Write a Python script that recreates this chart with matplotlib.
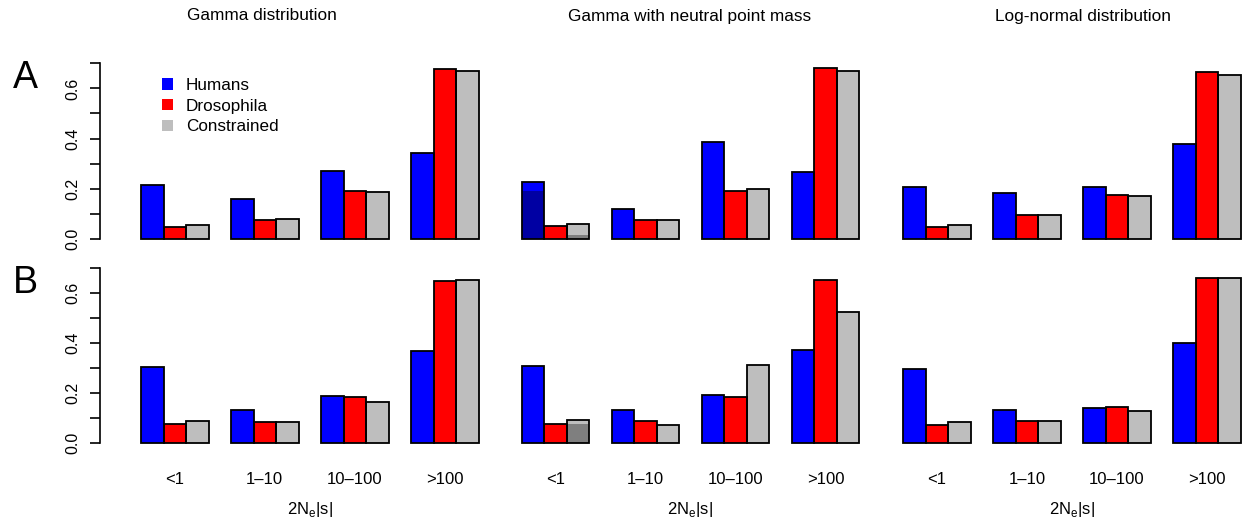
import matplotlib
matplotlib.use("Agg")
import matplotlib.pyplot as plt
from matplotlib.patches import Patch

plt.rcParams['font.family'] = ['Liberation Sans', 'DejaVu Sans']

categories = ["<1", "1\u201310", "10\u2013100", ">100"]
series = ["Humans", "Drosophila", "Constrained"]
colors = ["#0000FF", "#FF0000", "#BEBEBE"]
dark_colors = ["#0000A3", "#A00000", "#7F7F7F"]
panel_titles = ["Gamma distribution", "Gamma with neutral point mass", "Log-normal distribution"]
row_labels = ["A", "B"]

# Row A
A_gamma_humans = [0.215, 0.161, 0.270, 0.344]
A_gamma_dros = [0.048, 0.076, 0.190, 0.677]
A_gamma_cons = [0.057, 0.078, 0.189, 0.669]
A_gnp_humans = [0.228, 0.118, 0.386, 0.268]
A_gnp_dros = [0.050, 0.077, 0.193, 0.681]
A_gnp_cons = [0.060, 0.077, 0.198, 0.669]
A_ln_humans = [0.208, 0.185, 0.208, 0.377]
A_ln_dros = [0.046, 0.094, 0.175, 0.664]
A_ln_cons = [0.054, 0.097, 0.170, 0.655]
# Row B
B_gamma_humans = [0.304, 0.133, 0.191, 0.369]
B_gamma_dros = [0.076, 0.085, 0.185, 0.651]
B_gamma_cons = [0.089, 0.085, 0.167, 0.655]
B_gnp_humans = [0.308, 0.135, 0.192, 0.373]
B_gnp_dros = [0.079, 0.088, 0.187, 0.655]
B_gnp_cons = [0.095, 0.075, 0.313, 0.527]
B_ln_humans = [0.297, 0.133, 0.141, 0.400]
B_ln_dros = [0.073, 0.091, 0.144, 0.660]
B_ln_cons = [0.087, 0.089, 0.131, 0.660]

# neutral point mass (part of the "<1" class) in the middle panels
A_gnp_neutral = [0.193, 0.0, 0.016]
B_gnp_neutral = [0.0, 0.0, 0.079]

data = [
    [[A_gamma_humans, A_gamma_dros, A_gamma_cons],
     [A_gnp_humans, A_gnp_dros, A_gnp_cons],
     [A_ln_humans, A_ln_dros, A_ln_cons]],
    [[B_gamma_humans, B_gamma_dros, B_gamma_cons],
     [B_gnp_humans, B_gnp_dros, B_gnp_cons],
     [B_ln_humans, B_ln_dros, B_ln_cons]],
]
neutral = [A_gnp_neutral, B_gnp_neutral]

W, H = 1244, 525
fig = plt.figure(figsize=(W / 100, H / 100), dpi=100)

ux = 22.5
unit0 = [118.5, 499.2, 880.8]
y0 = [239.0, 443.3]
py = [251.0, 250.0]
xl = (-0.84, 16.64)
yl = (-0.028, 0.728)

def rect(l, t, r, b):
    return [l / W, 1 - b / H, (r - l) / W, (b - t) / H]

for r in range(2):
    for p in range(3):
        l = unit0[p] + xl[0] * ux
        rr = unit0[p] + xl[1] * ux
        t = y0[r] - yl[1] * py[r]
        b = y0[r] - yl[0] * py[r]
        ax = fig.add_axes(rect(l, t, rr, b))
        ax.patch.set_alpha(0)
        for j in range(3):
            xs = [4 * g + 1 + j + 0.5 for g in range(4)]
            ax.bar(xs, data[r][p][j], width=1.0, color=colors[j],
                   edgecolor="none", zorder=2)
            if p == 1 and neutral[r][j] > 0:
                ax.bar([xs[0]], [neutral[r][j]], width=1.0, color=dark_colors[j],
                       edgecolor="none", zorder=3)
            ax.bar(xs, data[r][p][j], width=1.0, fill=False,
                   edgecolor="black", linewidth=1.3, zorder=4)
        ax.set_xlim(*xl)
        ax.set_ylim(*yl)
        for s in ["top", "right", "bottom"]:
            ax.spines[s].set_visible(False)
        ax.set_xticks([])
        if p == 0:
            ax.spines["left"].set_bounds(0, 0.7)
            ax.spines["left"].set_linewidth(1.2)
            ax.set_yticks([0, 0.1, 0.2, 0.3, 0.4, 0.5, 0.6, 0.7])
            ax.set_yticklabels(["0.0", "", "0.2", "", "0.4", "", "0.6", ""],
                               rotation=90, va="center", fontsize=11.5)
            ax.tick_params(axis="y", length=7.5, width=1.2, pad=6)
        else:
            ax.spines["left"].set_visible(False)
            ax.set_yticks([])
        if r == 1:
            for g in range(4):
                ax.text(4 * g + 2.5, -0.143, categories[g], ha="center", va="center",
                        fontsize=12, transform=ax.transData, clip_on=False)
            ax.text(8.5, -0.263, "2N$_\\mathregular{e}$|s|", ha="center", va="center",
                    fontsize=12, clip_on=False)
        if r == 0 and p == 0:
            handles = [Patch(facecolor=c, edgecolor="none") for c in colors]
            ax.legend(handles, series, loc="upper left", frameon=False,
                      bbox_to_anchor=((162 - l) / (rr - l), 1 - (78 - t) / (b - t)),
                      fontsize=12.3, handlelength=0.65, handleheight=0.65,
                      handletextpad=0.75, labelspacing=0.33, borderpad=0,
                      borderaxespad=0)

title_x = [262, 690, 1083]
for p in range(3):
    fig.text(title_x[p] / W, 1 - 16 / H, panel_titles[p], ha="center", va="center",
             fontsize=12.4)

fig.text(25 / W, 1 - 78 / H, row_labels[0], ha="center", va="center", fontsize=27)
fig.text(25 / W, 1 - 283 / H, row_labels[1], ha="center", va="center", fontsize=27)

fig.savefig("out.png", dpi=100)
